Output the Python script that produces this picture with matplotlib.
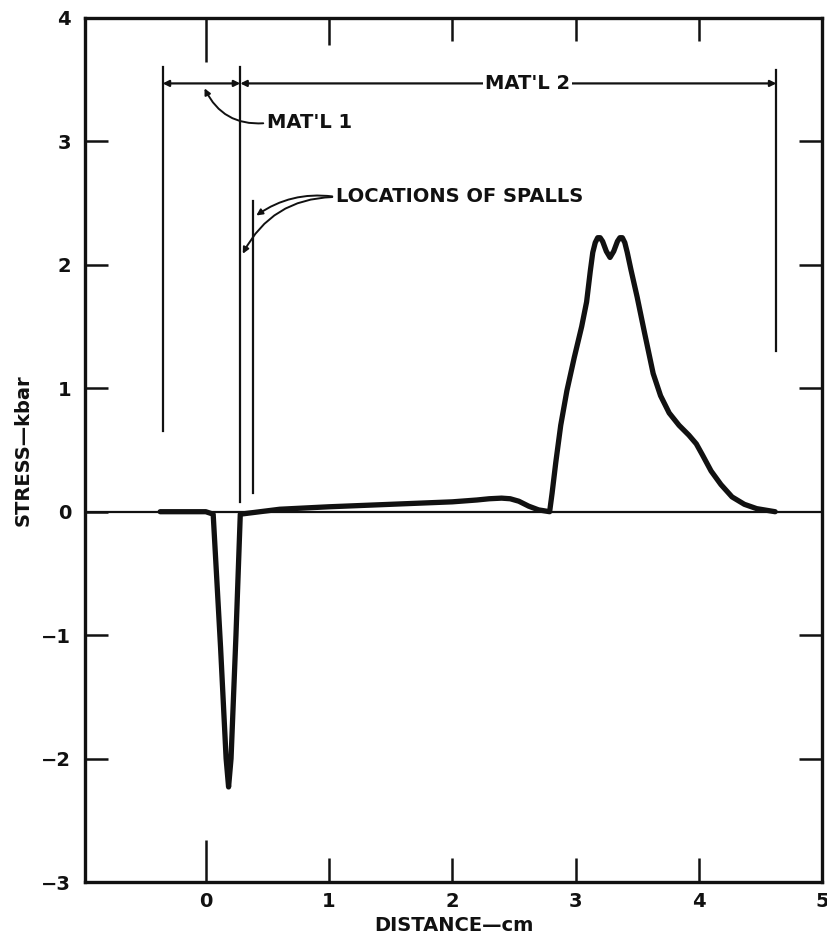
import matplotlib
matplotlib.use("Agg")
import matplotlib.pyplot as plt

plt.rcParams['font.family'] = ['DejaVu Sans']
plt.rcParams['font.weight'] = 'bold'

# Stress profile through the two-material target
distance_cm = [-0.37, 0.00, 0.06, 0.12, 0.165, 0.185, 0.205, 0.245, 0.28,
               0.60, 1.00, 1.50, 2.00, 2.20, 2.30, 2.40, 2.47, 2.54, 2.62,
               2.70, 2.79, 2.81, 2.84, 2.88, 2.93, 2.99, 3.05, 3.09, 3.12,
               3.14, 3.16, 3.18, 3.20, 3.22, 3.25, 3.28, 3.31, 3.34, 3.36,
               3.38, 3.40, 3.42, 3.45, 3.50, 3.56, 3.63, 3.69, 3.76, 3.84,
               3.92, 3.98, 4.03, 4.10, 4.18, 4.27, 4.37, 4.47, 4.62]
stress_kbar = [0.00, 0.00, -0.02, -1.10, -2.00, -2.23, -2.00, -1.00, -0.02,
               0.02, 0.04, 0.06, 0.08, 0.095, 0.105, 0.11, 0.105, 0.085,
               0.045, 0.015, 0.00, 0.15, 0.40, 0.70, 0.98, 1.25, 1.50, 1.70,
               1.95, 2.10, 2.18, 2.22, 2.22, 2.19, 2.11, 2.06, 2.11, 2.19,
               2.22, 2.22, 2.18, 2.10, 1.96, 1.74, 1.45, 1.12, 0.94, 0.80,
               0.70, 0.62, 0.55, 0.46, 0.33, 0.22, 0.12, 0.06, 0.025, 0.00]

x_ticks = [0, 1, 2, 3, 4, 5]
y_ticks = [-3, -2, -1, 0, 1, 2, 3, 4]
y_tick_labels = ['\u22123', '\u22122', '\u22121', '0', '1', '2', '3', '4']

# Material boundaries and spall planes (cm)
mat1_start, mat1_end, mat2_end = -0.35, 0.28, 4.63
spall_planes = [0.28, 0.38]
dim_y = 3.47

ink = '#111111'
fs = 14

fig = plt.figure(figsize=(8.27, 9.47), dpi=100)
ax = fig.add_axes([85 / 827, 1 - 882 / 947, (822 - 85) / 827, (882 - 18) / 947])
ax.set_xlim(-0.98, 5.0)
ax.set_ylim(-3, 4)

for s in ax.spines.values():
    s.set_linewidth(2.4)
    s.set_color(ink)

ax.axhline(0, color=ink, lw=1.6, zorder=2)
ax.plot(distance_cm, stress_kbar, color=ink, lw=3.8, solid_joinstyle='round',
        solid_capstyle='round', zorder=3)

# Extension lines for the dimension bars
ax.plot([mat1_start, mat1_start], [3.60, 0.65], color=ink, lw=1.6)
ax.plot([mat1_end, mat1_end], [3.60, 0.08], color=ink, lw=1.6)
ax.plot([spall_planes[1], spall_planes[1]], [2.52, 0.15], color=ink, lw=1.6)
ax.plot([mat2_end, mat2_end], [3.58, 1.30], color=ink, lw=1.6)

arrow_kw = dict(arrowstyle='<|-|>', color=ink, lw=1.6, mutation_scale=9,
                shrinkA=0, shrinkB=0)
ax.annotate('', xy=(mat1_start, dim_y), xytext=(mat1_end, dim_y),
            arrowprops=arrow_kw)
ax.annotate('', xy=(mat1_end, dim_y), xytext=(mat2_end, dim_y),
            arrowprops=arrow_kw)
ax.text(2.61, dim_y, "MAT'L 2", ha='center', va='center', fontsize=fs,
        fontweight='bold', color=ink,
        bbox=dict(facecolor='white', edgecolor='none', pad=1.5))

lead_kw = dict(arrowstyle='-|>', color=ink, lw=1.4, mutation_scale=9,
               shrinkA=1, shrinkB=0, relpos=(0, 0.5))
ax.annotate("MAT'L 1", xy=(-0.01, 3.43), xytext=(0.50, 3.15),
            ha='left', va='center', fontsize=fs, fontweight='bold', color=ink,
            arrowprops=dict(**lead_kw, connectionstyle='arc3,rad=-0.35'))

ax.annotate("LOCATIONS OF SPALLS", xy=(0.41, 2.40), xytext=(1.06, 2.55),
            ha='left', va='center', fontsize=fs, fontweight='bold', color=ink,
            arrowprops=dict(**lead_kw, connectionstyle='arc3,rad=0.2'))
ax.annotate("LOCATIONS OF SPALLS", xy=(0.30, 2.09), xytext=(1.06, 2.55),
            ha='left', va='center', fontsize=fs, fontweight='bold',
            color='none',
            arrowprops=dict(**lead_kw, connectionstyle='arc3,rad=0.3'))

# Axes ticks: inward on all four sides
ax.set_xticks(x_ticks)
ax.set_xticklabels([str(v) for v in x_ticks])
ax.set_yticks(y_ticks)
ax.set_yticklabels(y_tick_labels)
ax.tick_params(axis='both', direction='in', width=1.8, color=ink,
               labelsize=fs, labelcolor=ink)
ax.tick_params(axis='x', top=True, bottom=True, length=17, pad=7)
ax.tick_params(axis='y', left=True, right=True, length=16.5, pad=10)
for lbl in ax.get_xticklabels() + ax.get_yticklabels():
    lbl.set_fontweight('bold')

bottom_len = [30, 17, 17, 17, 17, 0]
top_len = [31.7, 19.4, 16.5, 16.5, 16.5, 0]
for t, lb, lt in zip(ax.xaxis.get_major_ticks(), bottom_len, top_len):
    t.tick1line.set_markersize(lb)
    t.tick2line.set_markersize(lt)
for t, v in zip(ax.yaxis.get_major_ticks(), y_ticks):
    if v in (-3, 4):
        t.tick1line.set_markersize(0)
        t.tick2line.set_markersize(0)
    if v == 0:
        t.tick2line.set_markersize(0)

ax.set_xlabel('DISTANCE\u2014cm', fontsize=fs, fontweight='bold', color=ink,
              labelpad=4)
ax.set_ylabel('STRESS\u2014kbar', fontsize=fs, fontweight='bold', color=ink,
              labelpad=6)

fig.savefig('out.png', dpi=100, facecolor='white')
